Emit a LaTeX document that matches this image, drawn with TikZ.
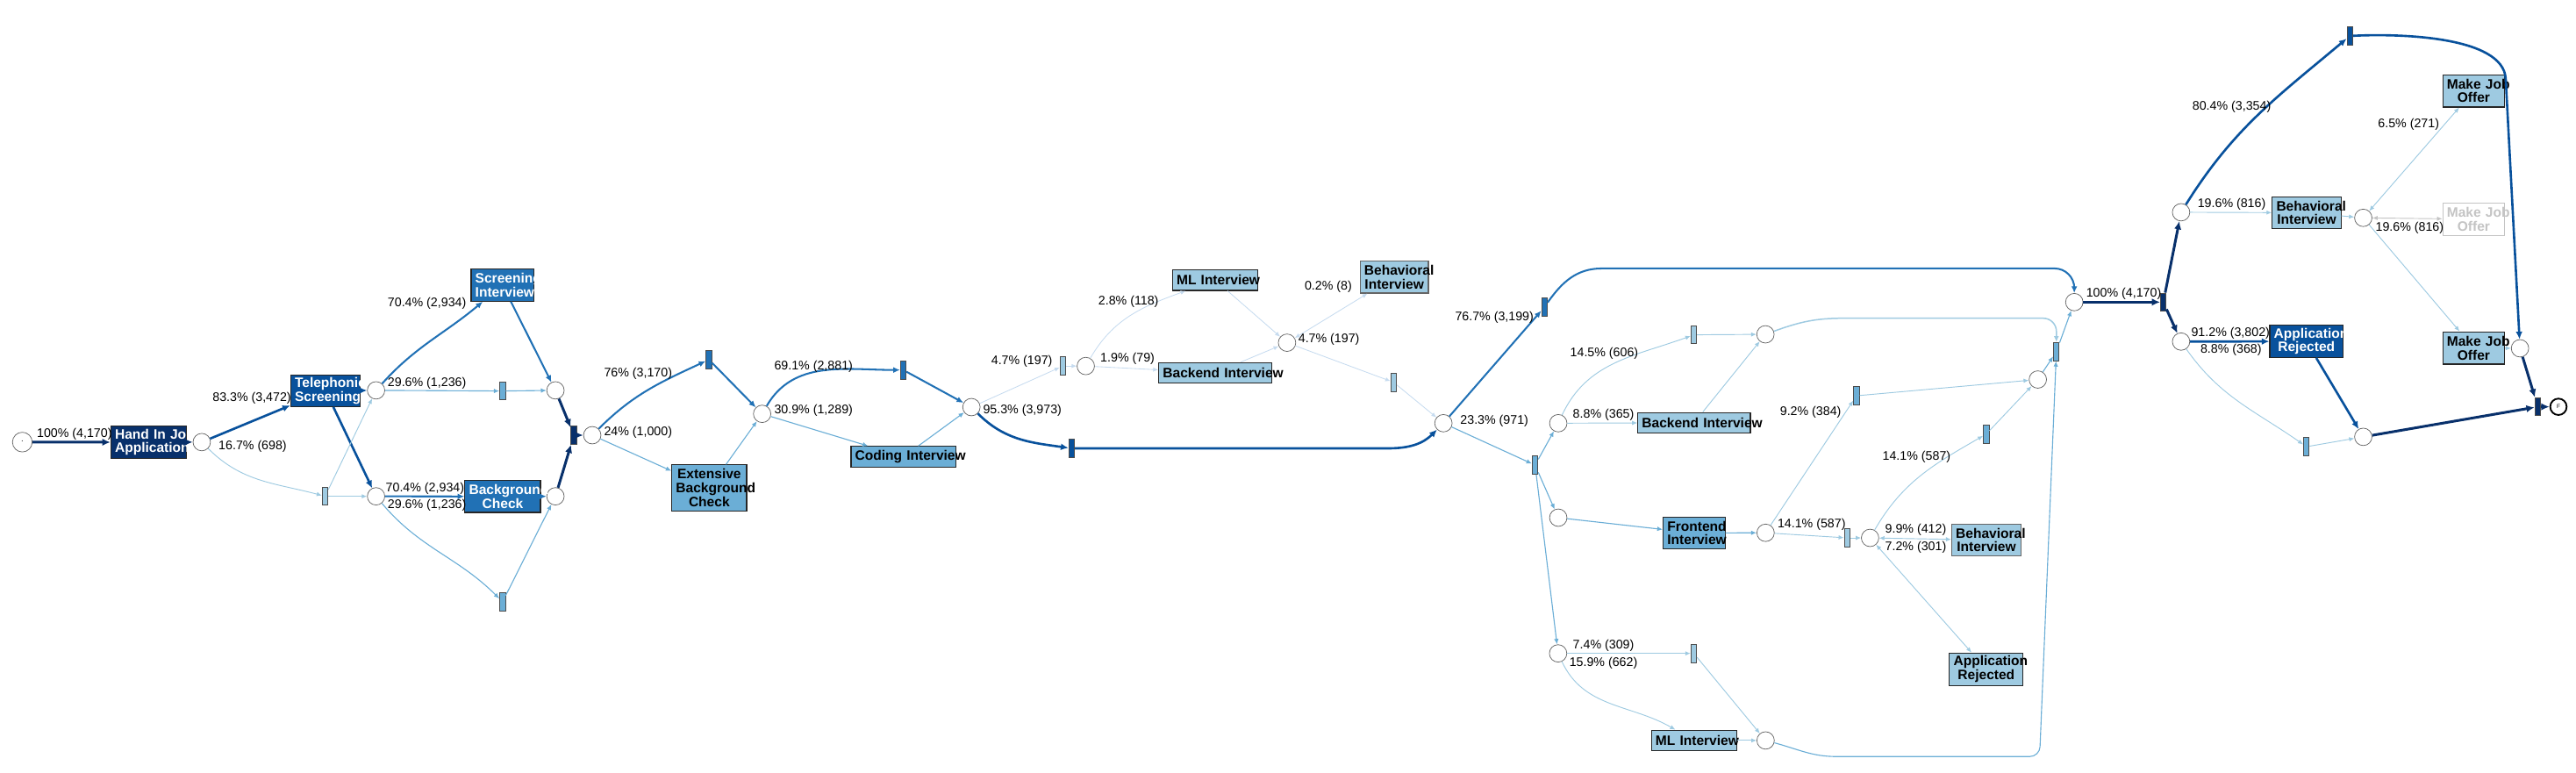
\documentclass[tikz,border=0pt]{standalone}
\usepackage{fontspec}
\setmainfont{Liberation Sans}
\usetikzlibrary{arrows.meta}

\definecolor{Navy}{HTML}{08306B}
\definecolor{DarkBlue}{HTML}{08519C}
\definecolor{MidBlue}{HTML}{2171B5}
\definecolor{LightBlue}{HTML}{6BAED6}
\definecolor{PaleBlue}{HTML}{9ECAE1}
\definecolor{IceBlue}{HTML}{C6DBEF}
\definecolor{OffGrey}{HTML}{C4C4C4}

\hyphenpenalty=10000
\exhyphenpenalty=10000

\begin{document}
\begin{tikzpicture}[x=1pt,y=-1pt,>={Latex[length=2.4pt 1.6,width=1.9pt 1.6]}]
  \tikzset{PlaceStyle/.style={circle, draw=black!60, line width=0.4pt, fill=white,
                              minimum size=10.6pt, inner sep=0pt}}
  \tikzset{TransStyle/.style={rectangle, draw=black!70, line width=0.5pt,
                              minimum width=3.4pt, minimum height=11pt, inner sep=0pt}}
  \tikzset{TaskStyle/.style={rectangle, draw=black!85, line width=0.6pt,
                             inner xsep=2.5pt, inner ysep=0pt, align=center,
                             font=\fontsize{8.3}{8.4}\selectfont\bfseries}}
  \tikzset{LabelStyle/.style={inner sep=0pt, font=\fontsize{7.6}{8}\selectfont}}
  \tikzset{EdgeNavy/.style={->, draw=Navy, line width=1.6pt}}
  \tikzset{EdgeDark/.style={->, draw=DarkBlue, line width=1.4pt}}
  \tikzset{EdgeMid/.style={->, draw=MidBlue, line width=1.1pt}}
  \tikzset{EdgeLight/.style={->, draw=LightBlue, line width=0.6pt}}
  \tikzset{EdgePale/.style={->, draw=PaleBlue, line width=0.5pt}}
  \tikzset{EdgeIce/.style={->, draw=IceBlue, line width=0.45pt}}
  \useasboundingbox (0,0) rectangle (1568,470);

  % places
  \node[PlaceStyle, minimum size=12pt] (s) at (13.6,269.1) {\fontsize{5}{5}\selectfont\textperiodcentered};
  \node[PlaceStyle] (p1) at (122.8,269.1) {};
  \node[PlaceStyle] (p2) at (228.9,237.6) {};
  \node[PlaceStyle] (p3) at (338.1,237.6) {};
  \node[PlaceStyle] (p4) at (228.9,302.1) {};
  \node[PlaceStyle] (p5) at (338.1,302.1) {};
  \node[PlaceStyle] (p6) at (360.5,264.9) {};
  \node[PlaceStyle] (p7) at (463.9,251.9) {};
  \node[PlaceStyle] (p8) at (591.3,247.8) {};
  \node[PlaceStyle] (p9) at (660.9,222.8) {};
  \node[PlaceStyle] (p10) at (783.4,208.6) {};
  \node[PlaceStyle] (p11) at (878.6,257.6) {};
  \node[PlaceStyle] (p12) at (948.5,257.6) {};
  \node[PlaceStyle] (p13) at (948.5,315.1) {};
  \node[PlaceStyle] (p14) at (1074.6,203.5) {};
  \node[PlaceStyle] (p15) at (1240.4,231) {};
  \node[PlaceStyle] (p16) at (1074.7,324.3) {};
  \node[PlaceStyle] (p17) at (1138.3,327.4) {};
  \node[PlaceStyle] (p18) at (948.4,397.7) {};
  \node[PlaceStyle] (p19) at (1074.7,450.7) {};
  \node[PlaceStyle] (ptop) at (1262.6,183.9) {};
  \node[PlaceStyle] (p20) at (1327.6,129.2) {};
  \node[PlaceStyle] (p21) at (1327.6,207.9) {};
  \node[PlaceStyle] (p22) at (1438.5,132.6) {};
  \node[PlaceStyle] (p23) at (1533.9,212) {};
  \node[PlaceStyle] (p24) at (1438.5,265.9) {};
  \node[PlaceStyle, draw=black, line width=1pt, minimum size=10pt] (fin) at (1557.3,247.6) {\fontsize{3.5}{4}\selectfont F};

  % transitions
  \node[TransStyle, fill=PaleBlue] (t0) at (197.9,302.1) {};
  \node[TransStyle, fill=LightBlue] (t1) at (305.9,238) {};
  \node[TransStyle, fill=LightBlue] (tb) at (305.9,366.3) {};
  \node[TransStyle, fill=Navy] (tj) at (349.3,264.9) {};
  \node[TransStyle, fill=MidBlue] (t2) at (431.5,218.9) {};
  \node[TransStyle, fill=MidBlue] (t3) at (549.8,225.2) {};
  \node[TransStyle, fill=DarkBlue] (t4) at (652.3,272.9) {};
  \node[TransStyle, fill=PaleBlue] (t5) at (647,222.8) {};
  \node[TransStyle, fill=PaleBlue] (t6) at (848.3,232.7) {};
  \node[TransStyle, fill=MidBlue] (t7) at (940.1,186.9) {};
  \node[TransStyle, fill=LightBlue] (t8) at (934.4,283.1) {};
  \node[TransStyle, fill=PaleBlue] (t9) at (1031,203.8) {};
  \node[TransStyle, fill=LightBlue] (t10) at (1251.7,214) {};
  \node[TransStyle, fill=LightBlue] (t11) at (1130,240.9) {};
  \node[TransStyle, fill=LightBlue] (t12) at (1209,264.2) {};
  \node[TransStyle, fill=PaleBlue] (t13) at (1124.3,327.4) {};
  \node[TransStyle, fill=PaleBlue] (t14) at (1031,397.7) {};
  \node[TransStyle, fill=Navy] (t15) at (1316.8,183.9) {};
  \node[TransStyle, fill=DarkBlue] (t16) at (1430.3,21.9) {};
  \node[TransStyle, fill=LightBlue] (t17) at (1403.9,271.9) {};
  \node[TransStyle, fill=Navy] (t18) at (1544.7,247.6) {};

  % activities
  \node[TaskStyle, fill=Navy, text=white, text width=40.8pt, minimum height=19.4pt] (HandIn) at (90.4,269.2) {Hand~In~Job\\Application};
  \node[TaskStyle, fill=DarkBlue, text=white, text width=37.5pt, minimum height=19pt] (Teleph) at (198.2,237.9) {Telephonic\\Screening};
  \node[TaskStyle, fill=MidBlue, text=white, text width=33.2pt, minimum height=19.6pt] (ScrInt) at (305.9,173.5) {Screening\\Interview};
  \node[TaskStyle, fill=MidBlue, text=white, text width=41pt, minimum height=19.4pt] (BgCheck) at (306,302.2) {Background\\Check};
  \node[TaskStyle, fill=LightBlue, text width=40.5pt, minimum height=28pt] (ExtBg) at (431.7,297) {Extensive\\Background\\Check};
  \node[TaskStyle, fill=LightBlue, text width=59pt, minimum height=12.5pt] (CodeInt) at (550,278) {Coding~Interview};
  \node[TaskStyle, fill=PaleBlue, text width=47pt, minimum height=12.5pt] (MLInt) at (739.7,170.5) {ML~Interview};
  \node[TaskStyle, fill=PaleBlue, text width=63.7pt, minimum height=12.4pt] (BackInt) at (739.7,226.9) {Backend~Interview};
  \node[TaskStyle, fill=PaleBlue, draw=black!60, text width=36.5pt, minimum height=19.4pt] (BehInt) at (848.7,168.7) {Behavioral\\Interview};
  \node[TaskStyle, fill=PaleBlue, text width=63.5pt, minimum height=12.5pt] (BackIntB) at (1031.2,257.3) {Backend~Interview};
  \node[TaskStyle, fill=LightBlue, text width=32.6pt, minimum height=19.4pt] (FrontInt) at (1031.2,324.4) {Frontend\\Interview};
  \node[TaskStyle, fill=PaleBlue, draw=black!60, text width=37.2pt, minimum height=19.4pt] (BehIntB) at (1209.1,328.7) {Behavioral\\Interview};
  \node[TaskStyle, fill=PaleBlue, text width=39.8pt, minimum height=19.7pt] (RejectA) at (1209,407.3) {Application\\Rejected};
  \node[TaskStyle, fill=PaleBlue, text width=46.8pt, minimum height=12.5pt] (MLIntB) at (1031.1,450.7) {ML~Interview};
  \node[TaskStyle, fill=PaleBlue, text width=36.8pt, minimum height=19.2pt] (BehIntC) at (1404,129.5) {Behavioral\\Interview};
  \node[TaskStyle, fill=PaleBlue, text width=32.6pt, minimum height=19.7pt] (OfferA) at (1505.7,55.3) {Make~Job\\Offer};
  \node[TaskStyle, fill=white, draw=OffGrey, text=OffGrey, text width=32.6pt, minimum height=19.7pt] (OfferB) at (1505.7,133.4) {Make~Job\\Offer};
  \node[TaskStyle, fill=PaleBlue, text width=32.6pt, minimum height=19.7pt] (OfferC) at (1505.7,211.8) {Make~Job\\Offer};
  \node[TaskStyle, fill=DarkBlue, text=white, text width=39.6pt, minimum height=19.5pt] (RejectB) at (1403.9,207.8) {Application\\Rejected};

  % bends of the long connectors
  \coordinate (k1) at (845,272.9);
  \coordinate (k2) at (975,163.4);
  \coordinate (k3) at (1262.6,163.4);
  \coordinate (k4) at (1122,193.7);
  \coordinate (k5) at (1251.7,193.7);
  \coordinate (k6) at (1118,460.5);
  \coordinate (k7) at (1241.5,460.5);
  \coordinate (k8) at (1525.2,48);

  \draw[EdgeNavy] (s) -- (HandIn);
  \draw[EdgeNavy] (HandIn) -- (p1);
  \draw[EdgeDark] (p1) -- (Teleph);
  \draw[EdgePale] (p1) to[out=-45,in=165] (t0);
  \draw[EdgeDark] (Teleph) -- (p2);
  \draw[EdgeDark] (Teleph) -- (p4);
  \draw[EdgePale] (t0) -- (p2);
  \draw[EdgePale] (t0) -- (p4);
  \draw[EdgeMid] (p2) to[out=48,in=-140] (ScrInt);
  \draw[EdgeLight] (p2) -- (t1);
  \draw[EdgeLight] (t1) -- (p3);
  \draw[EdgeMid] (ScrInt) -- (p3);
  \draw[EdgeMid] (p4) -- (BgCheck);
  \draw[EdgeLight] (p4) to[out=-50,in=135] (tb);
  \draw[EdgeMid] (BgCheck) -- (p5);
  \draw[EdgeLight] (tb) -- (p5);
  \draw[EdgeNavy] (p3) -- (tj);
  \draw[EdgeNavy] (p5) -- (tj);
  \draw[EdgeNavy] (tj) -- (p6);

  \draw[EdgeMid] (p6) to[out=45,in=-155] (t2);
  \draw[EdgeLight] (p6) -- (ExtBg);
  \draw[EdgeMid] (t2) -- (p7);
  \draw[EdgeLight] (ExtBg) -- (p7);
  \draw[EdgeMid] (p7) to[out=60,in=180] (t3);
  \draw[EdgeLight] (p7) -- (CodeInt);
  \draw[EdgeMid] (t3) -- (p8);
  \draw[EdgeLight] (CodeInt) -- (p8);
  \draw[EdgeIce] (p8) -- (t5);
  \draw[EdgeDark] (p8) to[out=-45,in=172] (t4);
  \draw[EdgeIce] (t5) -- (p9);
  \draw[EdgeIce] (p9) to[out=60,in=-160] (MLInt);
  \draw[EdgeIce] (p9) -- (BackInt);
  \draw[EdgeIce] (MLInt) -- (p10);
  \draw[EdgeIce] (BackInt) -- (p10);
  \draw[EdgeIce,<->] (p10) -- (BehInt);
  \draw[EdgeIce] (p10) -- (t6);
  \draw[EdgeIce] (t6) -- (p11);
  \draw[EdgeDark] (t4) -- (k1) to[out=0,in=-135] (p11);
  \draw[EdgeMid] (p11) -- (t7);
  \draw[EdgeLight] (p11) -- (t8);
  \draw[EdgeMid] (t7) to[out=55,in=180] (k2) [rounded corners=12pt] -- (k3) -- (ptop);

  \draw[EdgeLight] (t8) -- (p12);
  \draw[EdgeLight] (t8) -- (p13);
  \draw[EdgeLight] (t8) -- (p18);
  \draw[EdgePale] (p12) to[out=65,in=200] (t9);
  \draw[EdgePale] (p12) -- (BackIntB);
  \draw[EdgePale] (t9) -- (p14);
  \draw[EdgePale] (BackIntB) -- (p14);
  \draw[EdgePale, line width=0.8pt] (p14) to[out=20,in=180] (k4) [rounded corners=8pt] -- (k5) -- (t10);
  \draw[EdgeLight] (p13) -- (FrontInt);
  \draw[EdgeLight] (FrontInt) -- (p16);
  \draw[EdgePale] (p16) -- (t11);
  \draw[EdgePale] (p16) -- (t13);
  \draw[EdgePale] (t11) -- (p15);
  \draw[EdgePale] (t13) -- (p17);
  \draw[EdgePale,<->] (p17) -- (BehIntB);
  \draw[EdgePale] (p17) to[out=60,in=-150] (t12);
  \draw[EdgePale,<->] (p17) -- (RejectA);
  \draw[EdgePale] (t12) -- (p15);
  \draw[EdgeLight] (p15) -- (t10);
  \draw[EdgePale] (p18) -- (t14);
  \draw[EdgePale] (p18) to[out=-65,in=150] (MLIntB);
  \draw[EdgePale] (t14) -- (p19);
  \draw[EdgePale] (MLIntB) -- (p19);
  \draw[EdgeLight] (p19) to[out=-15,in=180] (k6) [rounded corners=6pt] -- (k7) -- (t10);
  \draw[EdgeLight] (t10) -- (ptop);

  \draw[EdgeNavy] (ptop) -- (t15);
  \draw[EdgeNavy] (t15) -- (p20);
  \draw[EdgeNavy] (t15) -- (p21);
  \draw[EdgeDark] (p20) to[out=58,in=-140] (t16);
  \draw[EdgePale] (p20) -- (BehIntC);
  \draw[EdgePale] (BehIntC) -- (p22);
  \draw[EdgePale,<->] (p22) -- (OfferA);
  \draw[->, draw=OffGrey, line width=0.5pt,<->] (p22) -- (OfferB);
  \draw[EdgePale] (p22) -- (OfferC);
  \draw[EdgePale] (OfferC) -- (p23);
  \draw[EdgeDark] (t16) to[out=3,in=93,looseness=0.7] (k8) -- (p23);
  \draw[EdgeDark] (p21) -- (RejectB);
  \draw[EdgePale] (p21) to[out=-55,in=145] (t17);
  \draw[EdgeDark] (RejectB) -- (p24);
  \draw[EdgePale] (t17) -- (p24);
  \draw[EdgeNavy] (p23) -- (t18);
  \draw[EdgeNavy] (p24) -- (t18);
  \draw[EdgeNavy] (t18) -- (fin);

  % frequencies
  \node[LabelStyle] (lab1) at (45.3,264.3) {100\% (4,170)};
  \node[LabelStyle] (lab2) at (153.3,242.6) {83.3\% (3,472)};
  \node[LabelStyle] (lab3) at (153.8,272) {16.7\% (698)};
  \node[LabelStyle] (lab4) at (259.9,184.7) {70.4\% (2,934)};
  \node[LabelStyle] (lab5) at (259.9,233.2) {29.6\% (1,236)};
  \node[LabelStyle] (lab6) at (258.7,297.3) {70.4\% (2,934)};
  \node[LabelStyle] (lab7) at (259.9,307.4) {29.6\% (1,236)};
  \node[LabelStyle] (lab8) at (388.4,227.3) {76\% (3,170)};
  \node[LabelStyle] (lab9) at (388.4,263.4) {24\% (1,000)};
  \node[LabelStyle] (lab10) at (495.2,223) {69.1\% (2,881)};
  \node[LabelStyle] (lab11) at (495.2,249.6) {30.9\% (1,289)};
  \node[LabelStyle] (lab12) at (622.3,250.1) {95.3\% (3,973)};
  \node[LabelStyle] (lab13) at (622,219.8) {4.7\% (197)};
  \node[LabelStyle] (lab14) at (686.9,183.4) {2.8\% (118)};
  \node[LabelStyle] (lab15) at (686.3,218.4) {1.9\% (79)};
  \node[LabelStyle] (lab16) at (808.5,174.4) {0.2\% (8)};
  \node[LabelStyle] (lab17) at (808.9,206.5) {4.7\% (197)};
  \node[LabelStyle] (lab18) at (909.6,193.5) {76.7\% (3,199)};
  \node[LabelStyle] (lab19) at (909.6,256.3) {23.3\% (971)};
  \node[LabelStyle] (lab20) at (976.5,215) {14.5\% (606)};
  \node[LabelStyle] (lab21) at (976,252.4) {8.8\% (365)};
  \node[LabelStyle] (lab22) at (1102.1,251) {9.2\% (384)};
  \node[LabelStyle] (lab23) at (1166.6,278) {14.1\% (587)};
  \node[LabelStyle] (lab24) at (1102.7,319.5) {14.1\% (587)};
  \node[LabelStyle] (lab25) at (1166.1,322.5) {9.9\% (412)};
  \node[LabelStyle] (lab26) at (1166.1,333) {7.2\% (301)};
  \node[LabelStyle] (lab27) at (976,393) {7.4\% (309)};
  \node[LabelStyle] (lab28) at (976,403.5) {15.9\% (662)};
  \node[LabelStyle] (lab29) at (1292.7,178.8) {100\% (4,170)};
  \node[LabelStyle] (lab30) at (1358.4,65.2) {80.4\% (3,354)};
  \node[LabelStyle] (lab31) at (1358.4,124.5) {19.6\% (816)};
  \node[LabelStyle] (lab32) at (1466.1,75.8) {6.5\% (271)};
  \node[LabelStyle] (lab33) at (1466.7,138.6) {19.6\% (816)};
  \node[LabelStyle] (lab34) at (1357.7,202.8) {91.2\% (3,802)};
  \node[LabelStyle] (lab35) at (1358,213.1) {8.8\% (368)};
\end{tikzpicture}
\end{document}
